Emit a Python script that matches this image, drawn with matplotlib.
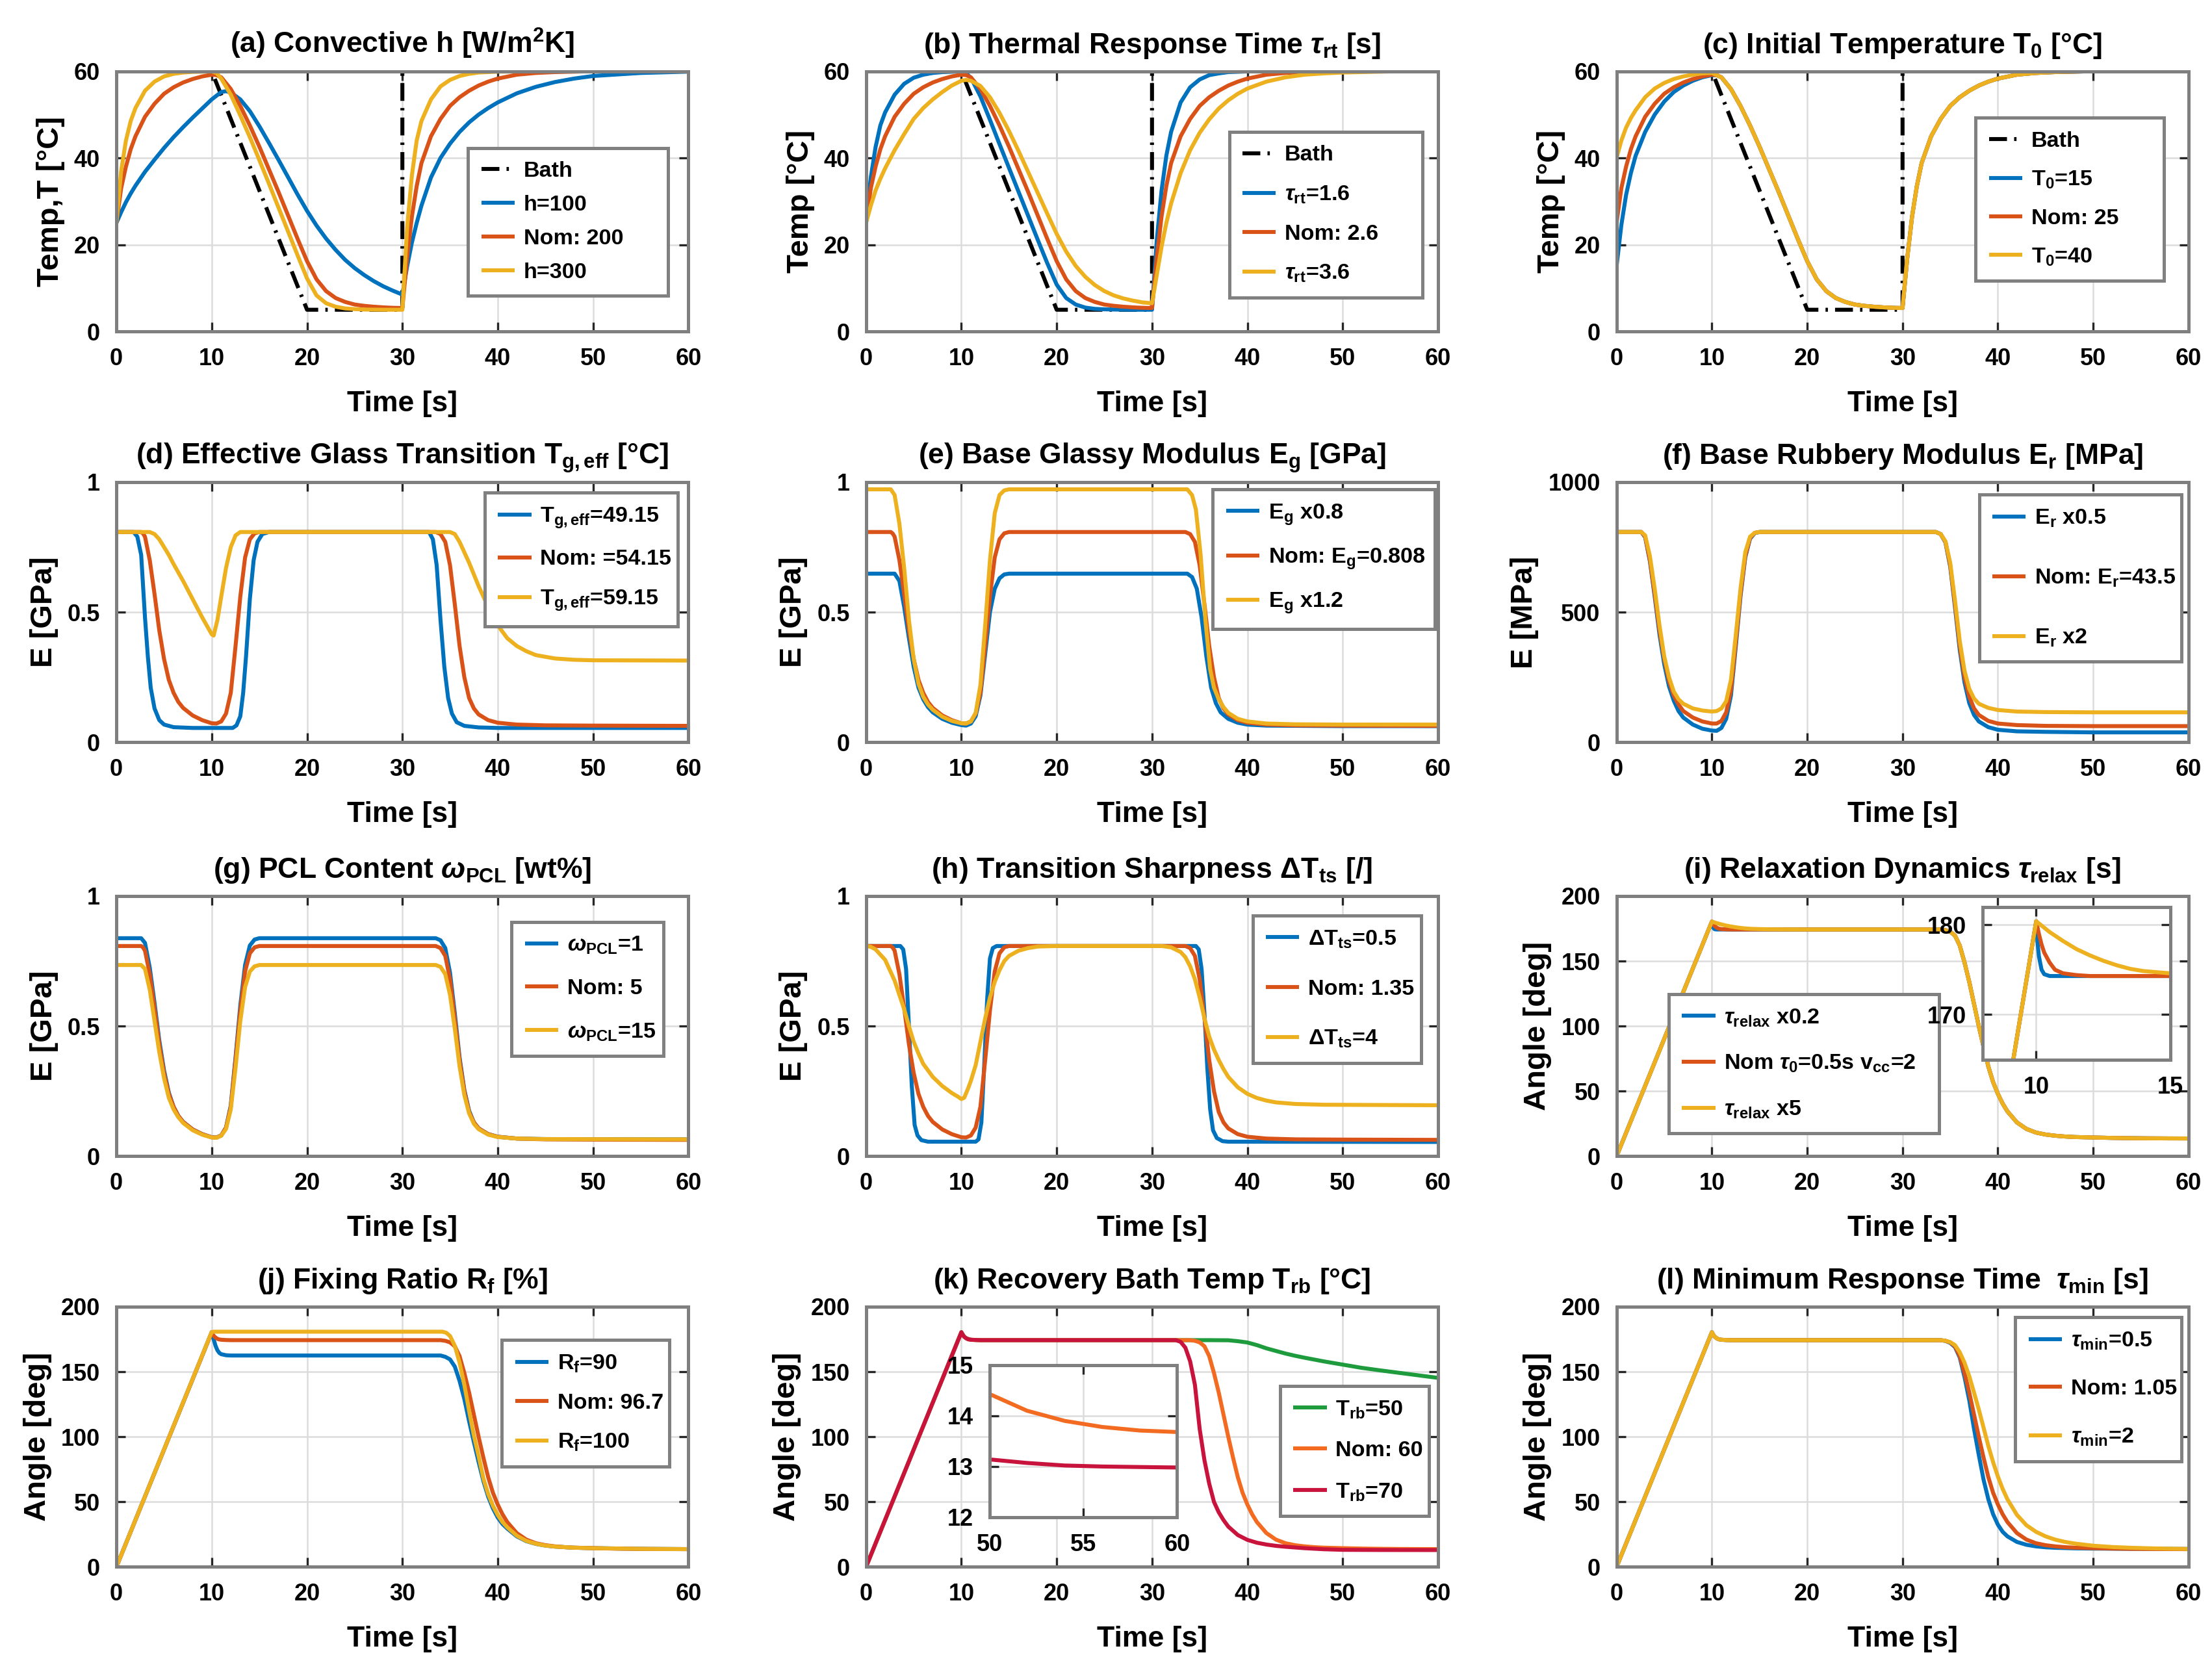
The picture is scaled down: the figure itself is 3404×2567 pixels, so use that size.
import matplotlib
matplotlib.use('Agg')
import matplotlib.pyplot as plt
import numpy as np

plt.rcParams['font.family'] = ['Liberation Sans', 'DejaVu Sans']
plt.rcParams['font.weight'] = 'bold'
plt.rcParams['axes.titleweight'] = 'bold'
plt.rcParams['axes.labelweight'] = 'bold'
plt.rcParams['mathtext.fontset'] = 'custom'
plt.rcParams['mathtext.rm'] = 'Liberation Sans:bold'
plt.rcParams['mathtext.it'] = 'Liberation Sans:italic:bold'
plt.rcParams['mathtext.bf'] = 'Liberation Sans:bold'

BLUE, RED, YEL = '#0072BD', '#D95319', '#EDB120'
GREEN, ORANGE, CRIMSON = '#1E9B3C', '#F26B21', '#C8143C'

# ---------------- temperature curves (t [s], T [degC]) ----------------
bath = [(0, 60), (10, 60), (20, 5), (30, 5), (30, 60), (60, 60)]

temp_nom = [(0, 25), (0.5, 33), (1, 38), (1.5, 42), (2, 45), (3, 49.5), (4, 52.5), (5, 54.8),
            (6, 56.3), (7, 57.4), (8, 58.2), (9, 58.8), (10, 59.2), (10.5, 59.1), (11, 58.6),
            (12, 55.9), (13, 52), (14, 47.5), (15, 42.6), (16, 37.4), (17, 32.2), (18, 26.8),
            (19, 21.4), (20, 16.2), (21, 12), (22, 9.3), (23, 7.7), (24, 6.8), (25, 6.2),
            (26, 5.9), (27, 5.7), (28, 5.55), (29, 5.45), (30, 5.4), (30.5, 17), (31, 26.5),
            (31.5, 33.5), (32, 38.8), (33, 45), (34, 49), (35, 52), (36, 54), (37, 55.5),
            (38, 56.7), (39, 57.6), (40, 58.3), (42, 59.2), (44, 59.6), (46, 59.8), (48, 59.9),
            (50, 60), (60, 60)]

a_h100 = [(0, 25), (0.5, 27.5), (1, 29.8), (1.5, 31.8), (2, 33.6), (3, 36.8), (4, 39.6),
          (5, 42.3), (6, 44.8), (7, 47.1), (8, 49.3), (9, 51.4), (10, 53.5), (11, 55.2),
          (11.5, 55.4), (12, 55.1), (13, 53.5), (14, 50.8), (15, 47.3), (16, 43.5), (17, 39.6),
          (18, 35.6), (19, 31.6), (20, 27.8), (21, 24.4), (22, 21.4), (23, 18.8), (24, 16.5),
          (25, 14.6), (26, 13.0), (27, 11.6), (28, 10.4), (29, 9.4), (30, 8.5), (30.5, 15),
          (31, 20.5), (31.5, 25), (32, 29), (33, 35.5), (34, 40), (35, 43.3), (36, 46),
          (37, 48.2), (38, 50), (39, 51.5), (40, 52.8), (42, 54.9), (44, 56.4), (46, 57.5),
          (48, 58.3), (50, 58.9), (55, 59.6), (60, 59.9)]

a_h300 = [(0, 25), (0.5, 37), (1, 44), (1.5, 48.5), (2, 51.5), (3, 55.5), (4, 57.6), (5, 58.8),
          (6, 59.4), (7, 59.7), (8, 59.85), (10, 59.95), (10.5, 59.6), (11, 58.3), (12, 54.6),
          (13, 49.8), (14, 44.8), (15, 39.5), (16, 34.1), (17, 28.6), (18, 23.1), (19, 17.6),
          (20, 12.2), (21, 8.3), (22, 6.5), (23, 5.7), (24, 5.3), (25, 5.15), (26, 5.05),
          (28, 5.0), (30, 5.0), (30.5, 24), (31, 36), (31.5, 44), (32, 48.5), (33, 53.5),
          (34, 56.5), (35, 58), (36, 58.9), (37, 59.4), (38, 59.7), (40, 59.9), (44, 60), (60, 60)]

b_tau16 = [(0, 25), (0.5, 35.5), (1, 42.5), (1.5, 47.5), (2, 50.5), (3, 54.6), (4, 57.1),
           (5, 58.5), (6, 59.2), (7, 59.6), (8, 59.8), (10, 59.95), (10.5, 59.5), (11, 58.5),
           (12, 54.2), (13, 48.8), (14, 43.2), (15, 37.7), (16, 32.2), (17, 26.7), (18, 21.2),
           (19, 15.8), (20, 10.8), (21, 7.7), (22, 6.2), (23, 5.5), (24, 5.2), (25, 5.1),
           (26, 5.05), (28, 5.0), (30, 5.0), (30.5, 21), (31, 32.5), (31.5, 40.5), (32, 46),
           (33, 52.8), (34, 56.3), (35, 58.1), (36, 59.1), (37, 59.5), (38, 59.8), (40, 59.95),
           (42, 60), (60, 60)]

b_tau36 = [(0, 25), (0.5, 29), (1, 32.5), (1.5, 35.2), (2, 37.6), (3, 41.8), (4, 45.5), (5, 49),
           (6, 51.5), (7, 53.5), (8, 55.2), (9, 56.7), (10, 57.8), (10.5, 58.0), (11, 57.8),
           (12, 56.6), (13, 54), (14, 50.4), (15, 46.2), (16, 41.6), (17, 36.8), (18, 32),
           (19, 27.2), (20, 22.5), (21, 18.4), (22, 15.1), (23, 12.6), (24, 10.7), (25, 9.3),
           (26, 8.3), (27, 7.6), (28, 7.1), (29, 6.7), (30, 6.5), (30.5, 13), (31, 19.5),
           (31.5, 25), (32, 29.5), (33, 36.5), (34, 41.8), (35, 45.8), (36, 48.9), (37, 51.4),
           (38, 53.3), (39, 54.8), (40, 56), (42, 57.6), (44, 58.6), (46, 59.2), (48, 59.5),
           (50, 59.7), (55, 59.95), (60, 60)]

c_T15_start = [(0, 15), (0.5, 24.5), (1, 31.5), (1.5, 36.5), (2, 40.5), (3, 46), (4, 50), (5, 53),
               (6, 55.2), (7, 56.7), (8, 57.8), (9, 58.6), (10, 59.1)]
c_T40_start = [(0, 40), (0.5, 44), (1, 47), (1.5, 49.2), (2, 51), (3, 54), (4, 56), (5, 57.3),
               (6, 58.2), (7, 58.8), (8, 59.2), (9, 59.5), (10, 59.6)]
c_T15 = c_T15_start + [p for p in temp_nom if p[0] > 10]
c_T40 = c_T40_start + [p for p in temp_nom if p[0] > 10]

# ---------------- modulus curves (t [s], E [GPa]) ----------------
E_nom = [(0, 0.808), (2.6, 0.808), (2.8, 0.802), (3, 0.79), (3.5, 0.70), (4, 0.57), (4.5, 0.43),
         (5, 0.32), (5.5, 0.24), (6, 0.19), (6.5, 0.155), (7, 0.132), (8, 0.103), (9, 0.085),
         (10, 0.073), (10.5, 0.072), (11, 0.08), (11.5, 0.11), (12, 0.19), (12.5, 0.37),
         (13, 0.56), (13.5, 0.71), (14, 0.78), (14.5, 0.803), (15, 0.808), (33.5, 0.808),
         (34, 0.80), (34.5, 0.77), (35, 0.68), (35.5, 0.53), (36, 0.37), (36.5, 0.25),
         (37, 0.17), (37.5, 0.13), (38, 0.107), (39, 0.085), (40, 0.075), (42, 0.068),
         (45, 0.065), (50, 0.064), (60, 0.063)]

d_Tg4915 = [(0, 0.808), (1.8, 0.808), (2.2, 0.79), (2.6, 0.72), (3.0, 0.48), (3.3, 0.33),
            (3.6, 0.21), (4.0, 0.13), (4.5, 0.085), (5, 0.068), (6, 0.058), (8, 0.055),
            (12.2, 0.055), (12.6, 0.065), (13.0, 0.10), (13.3, 0.19), (13.6, 0.33), (14.0, 0.55),
            (14.4, 0.70), (14.8, 0.77), (15.3, 0.80), (16, 0.808), (32.8, 0.808), (33.2, 0.78),
            (33.6, 0.68), (34.0, 0.47), (34.4, 0.29), (34.8, 0.17), (35.2, 0.11), (35.7, 0.077),
            (36.5, 0.063), (38, 0.057), (40, 0.055), (60, 0.055)]

d_Tg5915 = [(0, 0.808), (3.5, 0.808), (4, 0.80), (4.5, 0.78), (5, 0.75), (5.5, 0.72), (6, 0.685),
            (7, 0.62), (8, 0.55), (9, 0.48), (10, 0.415), (10.2, 0.41), (10.6, 0.47), (11, 0.56),
            (11.5, 0.67), (12, 0.75), (12.5, 0.795), (13, 0.808), (35, 0.808), (35.5, 0.80),
            (36, 0.77), (37, 0.69), (38, 0.60), (39, 0.52), (40, 0.45), (41, 0.40), (42, 0.37),
            (43, 0.35), (44, 0.335), (46, 0.322), (48, 0.317), (50, 0.315), (60, 0.314)]

e_x08 = [(0, 0.648), (3, 0.648), (3.5, 0.62), (4, 0.52), (4.5, 0.40), (5, 0.29), (5.5, 0.21),
         (6, 0.165), (6.5, 0.135), (7, 0.115), (8, 0.09), (9, 0.075), (10, 0.066), (10.5, 0.064),
         (11, 0.072), (11.5, 0.10), (12, 0.18), (12.5, 0.34), (13, 0.50), (13.5, 0.59),
         (14, 0.63), (14.5, 0.645), (15, 0.648), (33.7, 0.648), (34.2, 0.635), (34.7, 0.59),
         (35.2, 0.48), (35.7, 0.33), (36.2, 0.21), (36.7, 0.15), (37.2, 0.115), (38, 0.09),
         (39, 0.075), (40, 0.068), (42, 0.064), (50, 0.062), (60, 0.062)]

e_x12 = [(0, 0.972), (2.6, 0.972), (3.0, 0.95), (3.5, 0.84), (4.0, 0.67), (4.5, 0.47), (5.0, 0.32),
         (5.5, 0.225), (6, 0.175), (6.5, 0.145), (7, 0.125), (8, 0.098), (9, 0.082), (10, 0.073),
         (10.5, 0.072), (11, 0.08), (11.5, 0.113), (12, 0.22), (12.5, 0.45), (13, 0.70),
         (13.5, 0.88), (14, 0.95), (14.5, 0.968), (15, 0.972), (33.7, 0.972), (34.2, 0.95),
         (34.6, 0.895), (35.1, 0.72), (35.6, 0.47), (36.1, 0.28), (36.5, 0.21), (37, 0.165),
         (37.5, 0.135), (38, 0.113), (39, 0.09), (40, 0.08), (42, 0.072), (45, 0.069),
         (50, 0.068), (60, 0.068)]

# panel (f) is in MPa
f_x05 = [(0, 808), (2.6, 808), (3, 788), (3.5, 695), (4, 560), (4.5, 415), (5, 300), (5.5, 215),
         (6, 160), (6.5, 120), (7, 95), (8, 68), (9, 52), (10, 45), (10.5, 44), (11, 55),
         (11.5, 90), (12, 180), (12.5, 365), (13, 560), (13.5, 710), (14, 782), (14.5, 804),
         (15, 808), (33.5, 808), (34, 800), (34.5, 768), (35, 675), (35.5, 520), (36, 355),
         (36.5, 230), (37, 150), (37.5, 105), (38, 80), (39, 58), (40, 48), (42, 42), (45, 40),
         (50, 38), (60, 38)]
f_nom = [(0, 808), (2.6, 808), (3, 790), (3.5, 700), (4, 570), (4.5, 430), (5, 320), (5.5, 235),
         (6, 180), (6.5, 145), (7, 120), (8, 95), (9, 80), (10, 72), (10.5, 72), (11, 82),
         (11.5, 115), (12, 200), (12.5, 380), (13, 570), (13.5, 715), (14, 785), (14.5, 805),
         (15, 808), (33.5, 808), (34, 800), (34.5, 770), (35, 680), (35.5, 530), (36, 370),
         (36.5, 250), (37, 175), (37.5, 130), (38, 105), (39, 82), (40, 72), (42, 66), (45, 63),
         (50, 62), (60, 62)]
f_x2 = [(0, 808), (2.6, 808), (3, 795), (3.5, 715), (4, 590), (4.5, 450), (5, 330), (5.5, 250),
        (6, 195), (6.5, 165), (7, 148), (8, 130), (9, 122), (10, 118), (10.5, 120), (11, 130),
        (11.5, 158), (12, 240), (12.5, 410), (13, 590), (13.5, 730), (14, 790), (14.5, 805),
        (15, 808), (33.5, 808), (34, 800), (34.5, 772), (35, 690), (35.5, 545), (36, 390),
        (36.5, 275), (37, 205), (37.5, 168), (38, 148), (39, 132), (40, 124), (42, 118),
        (45, 116), (50, 115), (60, 115)]

g_w1 = [(0, 0.838), (2.6, 0.838), (3, 0.82), (3.5, 0.725), (4, 0.59), (4.5, 0.445), (5, 0.33),
        (5.5, 0.245), (6, 0.19), (6.5, 0.155), (7, 0.132), (8, 0.103), (9, 0.085), (10, 0.073),
        (10.5, 0.072), (11, 0.08), (11.5, 0.11), (12, 0.195), (12.5, 0.38), (13, 0.58),
        (13.5, 0.735), (14, 0.81), (14.5, 0.833), (15, 0.838), (33.5, 0.838), (34, 0.83),
        (34.5, 0.80), (35, 0.705), (35.5, 0.55), (36, 0.38), (36.5, 0.255), (37, 0.175),
        (37.5, 0.13), (38, 0.107), (39, 0.085), (40, 0.075), (42, 0.068), (45, 0.066), (60, 0.065)]
g_w15 = [(0, 0.735), (2.6, 0.735), (3, 0.72), (3.5, 0.64), (4, 0.52), (4.5, 0.40), (5, 0.30),
         (5.5, 0.225), (6, 0.18), (6.5, 0.15), (7, 0.128), (8, 0.1), (9, 0.083), (10, 0.072),
         (10.5, 0.071), (11, 0.079), (11.5, 0.105), (12, 0.18), (12.5, 0.34), (13, 0.52),
         (13.5, 0.65), (14, 0.71), (14.5, 0.73), (15, 0.735), (33.5, 0.735), (34, 0.728),
         (34.5, 0.70), (35, 0.62), (35.5, 0.49), (36, 0.345), (36.5, 0.235), (37, 0.165),
         (37.5, 0.125), (38, 0.104), (39, 0.083), (40, 0.074), (42, 0.068), (45, 0.066), (60, 0.065)]

h_dT05 = [(0, 0.808), (3.6, 0.808), (3.9, 0.795), (4.2, 0.72), (4.5, 0.50), (4.8, 0.27),
          (5.1, 0.12), (5.4, 0.08), (5.8, 0.062), (6.5, 0.056), (11.5, 0.056), (11.8, 0.065),
          (12.1, 0.13), (12.4, 0.35), (12.7, 0.60), (13, 0.76), (13.3, 0.80), (13.7, 0.808),
          (34.6, 0.808), (34.9, 0.795), (35.2, 0.72), (35.5, 0.55), (35.8, 0.34), (36.1, 0.18),
          (36.4, 0.10), (36.8, 0.07), (37.4, 0.058), (38, 0.056), (60, 0.055)]
h_dT4 = [(0, 0.808), (0.5, 0.805), (1, 0.795), (2, 0.755), (3, 0.675), (3.5, 0.62), (4, 0.565),
         (4.5, 0.50), (5, 0.44), (5.5, 0.395), (6, 0.355), (7, 0.305), (8, 0.27), (9, 0.243),
         (9.6, 0.23), (10, 0.22), (10.3, 0.225), (10.7, 0.26), (11, 0.29), (11.5, 0.35),
         (12, 0.44), (12.5, 0.53), (13, 0.61), (13.5, 0.67), (14, 0.715), (14.5, 0.75),
         (15, 0.77), (16, 0.79), (17, 0.80), (18, 0.806), (20, 0.808), (31, 0.808), (32, 0.803),
         (33, 0.785), (33.5, 0.765), (34, 0.73), (34.5, 0.68), (35, 0.61), (35.5, 0.53),
         (36, 0.46), (36.5, 0.41), (37, 0.37), (37.5, 0.335), (38, 0.305), (39, 0.265),
         (40, 0.24), (41, 0.224), (42, 0.214), (43, 0.207), (45, 0.201), (48, 0.198), (60, 0.196)]

# ---------------- angle curves (t [s], angle [deg]) ----------------
ang_nom = [(0, 0), (10, 180.4), (10.1, 179), (10.2, 177.8), (10.3, 176.9), (10.5, 175.8),
           (10.7, 175.0), (11, 174.6), (11.5, 174.4), (12, 174.3), (34, 174.3), (34.5, 173.8),
           (35, 172.6), (35.5, 169.6), (36, 162), (36.5, 149), (37, 134), (37.5, 117), (38, 100),
           (38.5, 84), (39, 69), (39.5, 57), (40, 48), (40.5, 40.5), (41, 34.5), (42, 26),
           (43, 21), (44, 18.2), (45, 16.7), (46, 15.8), (47, 15.2), (48, 14.8), (50, 14.43),
           (52, 14.1), (54, 13.9), (56, 13.78), (58, 13.71), (60, 13.68)]

i_x02_start = [(0, 0), (10, 180.4), (10.05, 178), (10.1, 176.5), (10.2, 175.0), (10.3, 174.5),
               (10.5, 174.3)]
i_x5_start = [(0, 0), (10, 180.4), (10.5, 179.2), (11, 178.2), (11.5, 177.3), (12, 176.6),
              (12.5, 176), (13, 175.5), (13.5, 175.1), (14, 174.85), (15, 174.6), (16, 174.45),
              (18, 174.35), (20, 174.3)]
i_x02 = i_x02_start + [p for p in ang_nom if p[0] >= 34]
i_x5 = i_x5_start + [p for p in ang_nom if p[0] >= 34]

j_Rf90 = [(0, 0), (10, 180.4), (10.2, 175), (10.4, 170), (10.6, 166.5), (10.8, 164.5), (11, 163.5),
          (11.5, 162.7), (12, 162.5), (34, 162.5), (34.5, 161.5), (35, 159.5), (35.5, 154),
          (36, 143), (36.5, 129), (37, 112), (37.5, 96), (38, 80.5), (38.5, 66), (39, 54),
          (39.5, 45), (40, 38), (40.5, 33), (41, 29.5), (42, 23.5), (43, 19.8), (44, 17.7),
          (45, 16.4), (46, 15.6), (48, 14.8), (50, 14.43), (55, 13.9), (60, 13.68)]
j_Rf100 = [(0, 0), (10, 180.6), (10.3, 180.8), (34.2, 180.8), (34.6, 180), (35, 177.5),
           (35.5, 170), (36, 157), (36.5, 140), (37, 120), (37.5, 101), (38, 85), (38.5, 68),
           (39, 56), (39.5, 47), (40, 40), (40.5, 34.5), (41, 30.5), (42, 24), (43, 20),
           (44, 17.8), (45, 16.4), (46, 15.6), (48, 14.8), (50, 14.43), (55, 13.9), (60, 13.68)]

k_Trb50 = [(0, 0), (10, 180.4), (10.3, 176.9), (10.5, 175.8), (11, 174.6), (12, 174.3),
           (36, 174.3), (38, 174.2), (39, 173.5), (40, 172.5), (41, 170.5), (42, 168), (43, 166),
           (44, 164), (45, 162.3), (46, 160.8), (47, 159.4), (48, 158), (50, 155.5), (52, 153),
           (54, 151), (56, 149.1), (58, 147.2), (60, 145.3)]
k_Trb70 = [(0, 0), (10, 180.4), (10.1, 179), (10.2, 177.8), (10.3, 176.9), (10.5, 175.8),
           (10.7, 175), (11, 174.6), (12, 174.3), (32.5, 174.3), (33, 173), (33.5, 168.5),
           (34, 158), (34.5, 140), (35, 106), (35.5, 82), (36, 64), (36.5, 50), (37, 42),
           (37.5, 36), (38, 31), (39, 24.5), (40, 20.8), (41, 18.6), (42, 17.2), (43, 16.2),
           (44, 15.5), (46, 14.4), (48, 13.6), (50, 13.14), (52, 13.07), (54, 13.02), (56, 13.0),
           (58, 12.99), (60, 12.98)]

l_min05 = [(0, 0), (10, 180.4), (10.1, 179), (10.2, 177.8), (10.3, 176.9), (10.5, 175.8),
           (10.7, 175), (11, 174.6), (11.5, 174.4), (12, 174.3), (34, 174.3), (34.5, 173.7),
           (35, 172.2), (35.5, 169), (36, 161), (36.5, 146), (37, 128), (37.5, 106), (38, 86),
           (38.5, 67), (39, 52), (39.5, 40.5), (40, 32.5), (40.5, 27), (41, 23.5), (42, 19.2),
           (43, 17), (44, 15.8), (45, 15.1), (46, 14.7), (48, 14.3), (50, 14.1), (55, 13.9),
           (60, 13.8)]
l_min2 = [(0, 0), (10, 180.4), (10.1, 179), (10.2, 177.8), (10.3, 176.9), (10.5, 175.8),
          (10.7, 175), (11, 174.6), (11.5, 174.4), (12, 174.3), (34, 174.3), (34.5, 173.8),
          (35, 172.8), (35.5, 170.5), (36, 165), (36.5, 157), (37, 146.5), (37.5, 134), (38, 121),
          (38.5, 107), (39, 93), (39.5, 80.5), (40, 69.5), (40.5, 60), (41, 52), (42, 40),
          (43, 32), (44, 27), (45, 23.5), (46, 21), (47, 19.3), (48, 18), (50, 16.3), (52, 15.3),
          (54, 14.7), (56, 14.3), (58, 14.0), (60, 13.85)]

# ---------------- text ----------------
titles = [r'(a) Convective h [W/m$^2$K]',
          r'(b) Thermal Response Time $\tau_{\mathrm{rt}}$ [s]',
          r'(c) Initial Temperature T$_{0}$ [°C]',
          r'(d) Effective Glass Transition T$_{\mathrm{g,eff}}$ [°C]',
          r'(e) Base Glassy Modulus E$_{\mathrm{g}}$ [GPa]',
          r'(f) Base Rubbery Modulus E$_{\mathrm{r}}$ [MPa]',
          r'(g) PCL Content $\omega_{\mathrm{PCL}}$ [wt%]',
          r'(h) Transition Sharpness $\Delta$T$_{\mathrm{ts}}$ [/]',
          r'(i) Relaxation Dynamics $\tau_{\mathrm{relax}}$ [s]',
          r'(j) Fixing Ratio R$_{\mathrm{f}}$ [%]',
          r'(k) Recovery Bath Temp T$_{\mathrm{rb}}$ [°C]',
          r'(l) Minimum Response Time  $\tau_{\mathrm{min}}$ [s]']
ylabels = ['Temp,T [°C]', 'Temp [°C]', 'Temp [°C]', 'E [GPa]', 'E [GPa]', 'E [MPa]',
           'E [GPa]', 'E [GPa]', 'Angle [deg]', 'Angle [deg]', 'Angle [deg]', 'Angle [deg]']

series = [
    [(bath, 'k', 'Bath'), (a_h100, BLUE, 'h=100'), (temp_nom, RED, 'Nom: 200'), (a_h300, YEL, 'h=300')],
    [(bath, 'k', 'Bath'), (b_tau16, BLUE, r'$\tau_{\mathrm{rt}}$=1.6'), (temp_nom, RED, 'Nom: 2.6'),
     (b_tau36, YEL, r'$\tau_{\mathrm{rt}}$=3.6')],
    [(bath, 'k', 'Bath'), (c_T15, BLUE, r'T$_{0}$=15'), (temp_nom, RED, 'Nom: 25'),
     (c_T40, YEL, r'T$_{0}$=40')],
    [(d_Tg4915, BLUE, r'T$_{\mathrm{g,eff}}$=49.15'), (E_nom, RED, 'Nom: =54.15'),
     (d_Tg5915, YEL, r'T$_{\mathrm{g,eff}}$=59.15')],
    [(e_x08, BLUE, r'E$_{\mathrm{g}}$ x0.8'), (E_nom, RED, r'Nom: E$_{\mathrm{g}}$=0.808'),
     (e_x12, YEL, r'E$_{\mathrm{g}}$ x1.2')],
    [(f_x05, BLUE, r'E$_{\mathrm{r}}$ x0.5'), (f_nom, RED, r'Nom: E$_{\mathrm{r}}$=43.5'),
     (f_x2, YEL, r'E$_{\mathrm{r}}$ x2')],
    [(g_w1, BLUE, r'$\omega_{\mathrm{PCL}}$=1'), (E_nom, RED, 'Nom: 5'),
     (g_w15, YEL, r'$\omega_{\mathrm{PCL}}$=15')],
    [(h_dT05, BLUE, r'$\Delta$T$_{\mathrm{ts}}$=0.5'), (E_nom, RED, 'Nom: 1.35'),
     (h_dT4, YEL, r'$\Delta$T$_{\mathrm{ts}}$=4')],
    [(i_x02, BLUE, r'$\tau_{\mathrm{relax}}$ x0.2'),
     (ang_nom, RED, r'Nom $\tau_{0}$=0.5s v$_{\mathrm{cc}}$=2'),
     (i_x5, YEL, r'$\tau_{\mathrm{relax}}$ x5')],
    [(j_Rf90, BLUE, r'R$_{\mathrm{f}}$=90'), (ang_nom, RED, 'Nom: 96.7'),
     (j_Rf100, YEL, r'R$_{\mathrm{f}}$=100')],
    [(k_Trb50, GREEN, r'T$_{\mathrm{rb}}$=50'), (ang_nom, ORANGE, 'Nom: 60'),
     (k_Trb70, CRIMSON, r'T$_{\mathrm{rb}}$=70')],
    [(l_min05, BLUE, r'$\tau_{\mathrm{min}}$=0.5'), (ang_nom, RED, 'Nom: 1.05'),
     (l_min2, YEL, r'$\tau_{\mathrm{min}}$=2')],
]

time_ticks = [0, 10, 20, 30, 40, 50, 60]
temp_ticks = [0, 20, 40, 60]
gpa_ticks, gpa_labels = [0, 0.5, 1], ['0', '0.5', '1']
mpa_ticks = [0, 500, 1000]
ang_ticks = [0, 50, 100, 150, 200]
yspecs = [((0, 60), temp_ticks, None)] * 3 + \
         [((0, 1), gpa_ticks, gpa_labels)] * 2 + [((0, 1000), mpa_ticks, None)] + \
         [((0, 1), gpa_ticks, gpa_labels)] * 2 + [((0, 200), ang_ticks, None)] * 4

# legend boxes in axes fraction (x0, y0, w, h) and row spacing
leg_boxes = [(0.615, 0.138, 0.349, 0.565), (0.635, 0.125, 0.338, 0.647), (0.628, 0.187, 0.329, 0.641),
             (0.644, 0.440, 0.338, 0.525), (0.606, 0.426, 0.388, 0.557), (0.634, 0.296, 0.354, 0.669),
             (0.691, 0.385, 0.266, 0.517), (0.676, 0.368, 0.295, 0.549), (0.091, 0.078, 0.473, 0.555),
             (0.674, 0.375, 0.293, 0.508), (0.724, 0.188, 0.260, 0.516), (0.697, 0.425, 0.291, 0.516)]
leg_space = [0.61, 0.85, 0.81, 0.85, 0.9, 1.74, 1.02, 1.32, 1.12, 0.84, 0.93, 1.24]

LW = 2.2
EDGE = '#7f7f7f'
GRID = '#dcdcdc'


def style_axes(ax, fs=13):
    ax.set_axisbelow(True)
    ax.grid(True, color=GRID, lw=0.9)
    for s in ax.spines.values():
        s.set_color(EDGE)
        s.set_linewidth(1.8)
    ax.tick_params(direction='in', top=True, right=True, length=5, width=1.2,
                   color='#262626', labelsize=fs, pad=9)


def draw(ax, pts, color, label=None):
    t, v = np.array(pts, dtype=float).T
    kw = {}
    if color == 'k':
        kw['dashes'] = (4.5, 1.8, 0.6, 1.8)
    ax.plot(t, v, color=color, lw=LW, label=label, solid_capstyle='butt', **kw)


fig = plt.figure(figsize=(17.025, 12.835), dpi=200)
col_left = [0.0526, 0.3914, 0.7306]
row_bottom = [0.8013, 0.5550, 0.3068, 0.0606]
AX_W, AX_H = 0.2585, 0.156

for n in range(12):
    r, c = divmod(n, 3)
    ax = fig.add_axes([col_left[c], row_bottom[r], AX_W, AX_H])
    style_axes(ax)
    for pts, color, label in series[n]:
        draw(ax, pts, color, label)
    ylim, yt, ytl = yspecs[n]
    ax.set_xlim(0, 60)
    ax.set_xticks(time_ticks)
    ax.set_ylim(*ylim)
    ax.set_yticks(yt)
    if ytl is not None:
        ax.set_yticklabels(ytl)
    ax.set_xlabel('Time [s]', fontsize=16, labelpad=11)
    ax.set_ylabel(ylabels[n], fontsize=17, labelpad=5)
    ax.set_title(titles[n], fontsize=16, pad=10)
    leg = ax.legend(loc='center', bbox_to_anchor=leg_boxes[n], mode='expand', borderaxespad=0,
                    fontsize=12.3, labelspacing=leg_space[n], borderpad=0.6, handlelength=1.5,
                    handletextpad=0.4, fancybox=False, framealpha=1, edgecolor='#808080')
    leg.get_frame().set_linewidth(1.8)

    if n == 8:
        ins = fig.add_axes([0.8960, 0.3648, 0.0849, 0.0915])
        style_axes(ins)
        for pts, color, label in series[n]:
            draw(ins, pts, color)
        ins.set_xlim(8, 15)
        ins.set_ylim(165, 182)
        ins.set_xticks([10, 15])
        ins.set_yticks([170, 180])
    if n == 10:
        ins = fig.add_axes([0.4472, 0.0904, 0.0848, 0.0912])
        style_axes(ins)
        for pts, color, label in series[n]:
            draw(ins, pts, color)
        ins.set_xlim(50, 60)
        ins.set_ylim(12, 15)
        ins.set_xticks([50, 55, 60])
        ins.set_yticks([12, 13, 14, 15])

fig.savefig('out.png', dpi=200, facecolor='white')
